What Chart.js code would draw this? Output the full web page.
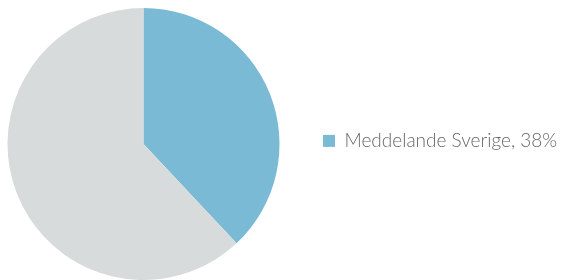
<!DOCTYPE html>
<html>
<head>
<meta charset="utf-8">
<script src="https://cdn.jsdelivr.net/npm/chart.js@4/dist/chart.umd.min.js"></script>
<style>
  html, body { margin: 0; padding: 0; background: #fff; }
  #wrap { width: 562px; height: 280px; position: relative; }
</style>
</head>
<body>
<div id="wrap"><canvas id="pieChart"></canvas></div>
<script>
const labels = ['Meddelande Sverige', 'Övriga'];
const values = [38, 62];
const colors = ['#7abad4', '#d7dbdb'];

document.addEventListener('DOMContentLoaded', () => {

    const ctx = document.getElementById('pieChart').getContext('2d');
    new Chart(ctx, {
        type: 'pie',
        data: {
            labels: labels,
            datasets: [{
                data: values,
                backgroundColor: colors,
                borderWidth: 0
            }]
        },
        options: {
            responsive: true,
            maintainAspectRatio: false,
            animation: false,
            layout: { padding: { top: 8 } },
            plugins: {
                tooltip: { enabled: false },
                legend: {
                    position: 'right',
                    align: 'start',
                    maxWidth: 275,
                    // empty title only used to push the single item down
                    title: {
                        display: true,
                        text: '',
                        font: { size: 12 },
                        padding: { top: 73, bottom: 0 }
                    },
                    labels: {
                        padding: 36,
                        boxWidth: 12,
                        boxHeight: 12,
                        color: '#3a3a3a',
                        font: { family: 'Lato', size: 19, weight: '300' },
                        // only the first slice is listed, with its share
                        generateLabels: chart => [{
                            text: `${labels[0]}, ${values[0]}%`,
                            fillStyle: colors[0],
                            strokeStyle: colors[0],
                            lineWidth: 0,
                            index: 0
                        }]
                    }
                }
            }
        }
    });
});
</script>
</body>
</html>
